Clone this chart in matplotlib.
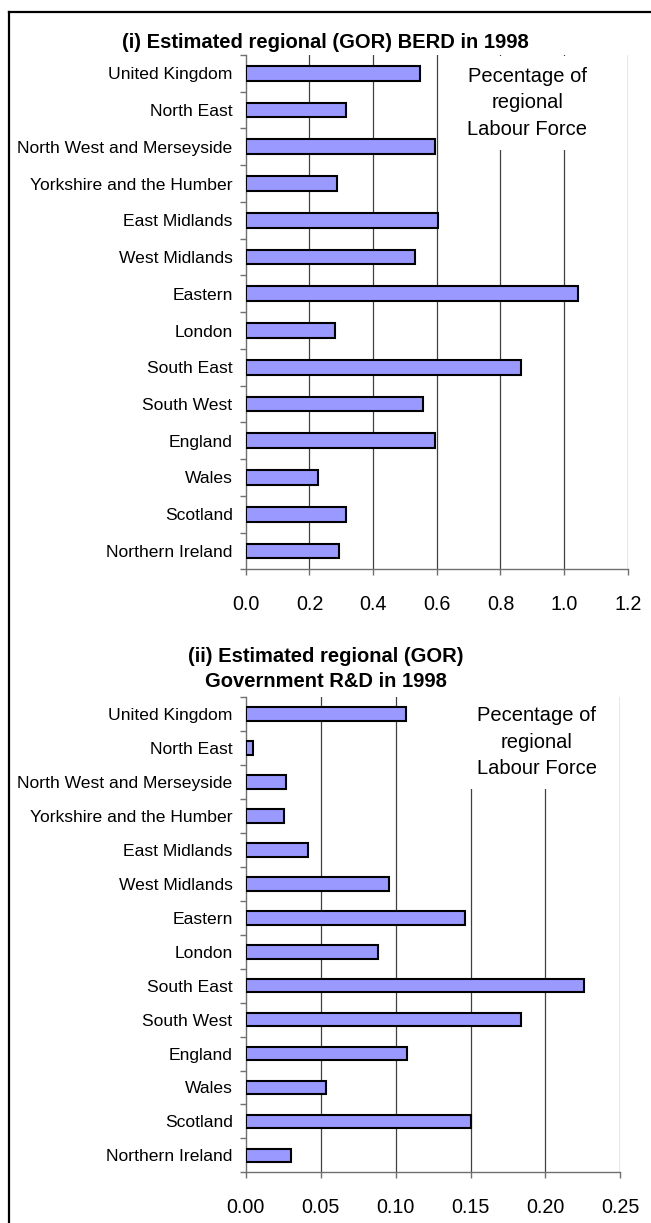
import numpy as np
import matplotlib
matplotlib.use('Agg')
import matplotlib.pyplot as plt
from matplotlib.lines import Line2D

plt.rcParams['font.family'] = ['Liberation Sans', 'DejaVu Sans']

regions = ['United Kingdom', 'North East', 'North West and Merseyside',
           'Yorkshire and the Humber', 'East Midlands', 'West Midlands',
           'Eastern', 'London', 'South East', 'South West', 'England',
           'Wales', 'Scotland', 'Northern Ireland']

# percentage of regional labour force
berd = [0.548, 0.316, 0.593, 0.286, 0.603, 0.530, 1.045, 0.279,
        0.865, 0.557, 0.593, 0.228, 0.316, 0.292]
gov_rd = [0.1067, 0.0047, 0.0266, 0.0252, 0.0413, 0.0956, 0.1463, 0.0884,
          0.2259, 0.1835, 0.1078, 0.0535, 0.1505, 0.0299]

x_ticks_top = [0.0, 0.2, 0.4, 0.6, 0.8, 1.0, 1.2]
x_ticks_bot = [0.00, 0.05, 0.10, 0.15, 0.20, 0.25]

W, H = 651, 1223
fig = plt.figure(figsize=(W / 100, H / 100), dpi=100)

# outer frame (left and top edges only visible)
fig.add_artist(Line2D([8.5 / W, 8.5 / W], [0, 1 - 12 / H], color='black', lw=1.6,
                      transform=fig.transFigure))
fig.add_artist(Line2D([8.5 / W, 1], [1 - 12 / H, 1 - 12 / H], color='black', lw=1.6,
                      transform=fig.transFigure))


def panel(rect, values, xticks, fmt, title_lines, title_y, note_xy):
    ax = fig.add_axes(rect)
    y = np.arange(len(regions))
    ax.barh(y, values, height=0.4, color='#9999FF', edgecolor='black', lw=1.5, zorder=3)
    ax.set_ylim(len(regions) - 0.5, -0.5)
    ax.set_xlim(xticks[0], xticks[-1])
    ax.set_xticks(xticks)
    ax.set_xticklabels([fmt.format(v) for v in xticks], fontsize=14.2)
    ax.set_yticks(y)
    ax.set_yticklabels(regions, fontsize=12.6)
    ax.set_yticks(np.arange(-0.5, len(regions), 1), minor=True)
    ax.tick_params(axis='y', which='major', length=0, pad=9.5)
    ax.tick_params(axis='y', which='minor', length=4, color='#707070', width=1)
    ax.tick_params(axis='x', length=4.5, color='#707070', width=1, pad=14)
    for s in ['top', 'right']:
        ax.spines[s].set_visible(False)
    for s in ['left', 'bottom']:
        ax.spines[s].set_color('#707070')
        ax.spines[s].set_linewidth(1)
    for v in xticks[1:]:
        ax.axvline(v, color='#404040', lw=0.9, zorder=1)
    ax.text(note_xy[0], note_xy[1], 'Pecentage of\nregional\nLabour Force',
            transform=ax.transAxes, ha='center', va='top', fontsize=14.5,
            linespacing=1.49, zorder=4,
            bbox=dict(facecolor='white', edgecolor='none', pad=8))
    fig.text(0.5, title_y, title_lines, ha='center', va='center',
             fontsize=14.5, fontweight='bold', linespacing=1.45)
    return ax


panel([245.8 / W, 1 - 569.3 / H, 382 / W, 514.3 / H], berd, x_ticks_top,
      '{:.1f}', '(i) Estimated regional (GOR) BERD in 1998', 1 - 42 / H,
      ((527.3 - 245.8) / 382, 1 - 12 / 514.3))

panel([245.8 / W, 1 - 1172.3 / H, 374.5 / W, 475 / H], gov_rd, x_ticks_bot,
      '{:.2f}', '(ii) Estimated regional (GOR)\nGovernment R&D in 1998', 1 - 669 / H,
      ((536.9 - 245.8) / 374.5, 1 - 9 / 475))

fig.savefig('out.png', dpi=100)
